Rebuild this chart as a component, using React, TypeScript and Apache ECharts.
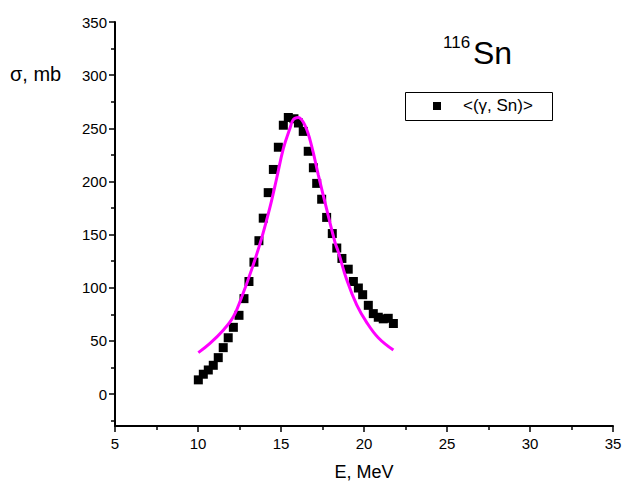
import { useEffect, useRef } from "react";
import * as echarts from "echarts";

const energy = [10.02, 10.32, 10.62, 10.92, 11.22, 11.52, 11.82, 12.13, 12.47, 12.77, 13.07, 13.37, 13.67, 13.93, 14.23, 14.54, 14.84, 15.14, 15.44, 15.78, 16.05, 16.34, 16.64, 16.95, 17.15, 17.45, 17.75, 18.09, 18.36, 18.67, 19.05, 19.36, 19.66, 19.92, 20.26, 20.56, 20.86, 21.16, 21.46, 21.77];
const sigma = [13.4, 18.7, 22.7, 27.1, 34.3, 43.7, 53.0, 62.8, 74.1, 89.8, 105.9, 124.1, 144.3, 165.5, 189.5, 211.3, 232.2, 252.9, 260.2, 259.0, 255.0, 247.1, 228.4, 212.9, 198.2, 183.3, 166.2, 151.0, 137.4, 127.6, 117.5, 105.9, 99.8, 93.5, 83.5, 75.7, 72.3, 70.8, 71.3, 66.4];

const fitEnergy = [10.02, 10.72, 11.52, 12.13, 12.6, 13.23, 13.84, 14.34, 14.74, 15.14, 15.54, 15.74, 16.04, 16.45, 16.85, 17.25, 17.75, 18.25, 18.45, 18.96, 19.56, 20.16, 20.86, 21.77];
const fitSigma = [39.0, 47.7, 60.1, 72.7, 90.0, 117.1, 147.0, 176.0, 203.0, 231.0, 250.0, 258.1, 260.2, 252.5, 233.1, 206.0, 174.0, 143.0, 134.0, 107.5, 84.0, 67.5, 53.0, 41.4];

const yLabels = [0, 50, 100, 150, 200, 250, 300, 350];
const yMinor = [-25, 25, 75, 125, 175, 225, 275, 325];

const seriesName = "<(γ, Sn)>";
const isotopeMass = "116";
const isotopeSymbol = "Sn";
const yTitle = "σ, mb";
const xTitle = "E, MeV";

export default function App() {
  const ref = useRef<HTMLDivElement>(null);
  useEffect(() => {
    const chart = echarts.init(ref.current!, null, { renderer: "svg" });
    const font = "'Liberation Sans', Arial, sans-serif";
    const axisColor = "#000";
    chart.setOption({
      animation: false,
      backgroundColor: "#fff",
      grid: { left: 115, right: 14, top: 22, bottom: 57, containLabel: false },
      xAxis: {
        type: "value",
        min: 5,
        max: 35,
        interval: 5,
        axisLine: { show: true, onZero: false, lineStyle: { color: axisColor, width: 2 } },
        axisTick: { show: true, inside: false, length: 6, lineStyle: { color: axisColor, width: 1.5 } },
        minorTick: { show: true, splitNumber: 2, length: 4, lineStyle: { color: axisColor, width: 1.5 } },
        splitLine: { show: false },
        axisLabel: { color: "#000", fontSize: 15, fontFamily: font, margin: 10 },
        name: xTitle,
        nameLocation: "middle",
        nameGap: 37,
        nameTextStyle: { color: "#000", fontSize: 18, fontFamily: font },
      },
      yAxis: [
        {
          type: "value",
          min: -30,
          max: 350,
          position: "left",
          axisLine: { show: true, onZero: false, lineStyle: { color: axisColor, width: 2 } },
          axisTick: { show: true, inside: false, length: 6, customValues: yLabels, lineStyle: { color: axisColor, width: 1.5 } },
          splitLine: { show: false },
          axisLabel: { color: "#000", fontSize: 15, fontFamily: font, margin: 8, customValues: yLabels },
        },
        {
          type: "value",
          min: -30,
          max: 350,
          position: "left",
          axisLine: { show: false, onZero: false },
          axisTick: { show: true, inside: false, length: 4, customValues: yMinor, lineStyle: { color: axisColor, width: 1.5 } },
          splitLine: { show: false },
          axisLabel: { show: false },
        },
      ],
      graphic: [
        {
          type: "text",
          left: 10,
          top: 64,
          style: { text: yTitle, fill: "#000", font: `20px ${font}` },
        },
        {
          type: "text",
          left: 443,
          top: 34,
          style: { text: isotopeMass, fill: "#000", font: `17px ${font}` },
        },
        {
          type: "text",
          left: 473,
          top: 37,
          style: { text: isotopeSymbol, fill: "#000", font: `32px ${font}` },
        },
        {
          type: "rect",
          shape: { x: 405.5, y: 92.5, width: 147, height: 28 },
          style: { fill: "#fff", stroke: "#000", lineWidth: 1 },
          z: 10,
        },
        {
          type: "rect",
          shape: { x: 433, y: 102, width: 8, height: 8 },
          style: { fill: "#000" },
          z: 11,
        },
        {
          type: "text",
          left: 463,
          top: 97,
          z: 11,
          style: { text: seriesName, fill: "#000", font: `17px ${font}` },
        },
      ],
      series: [
        {
          name: seriesName,
          type: "scatter",
          symbol: "rect",
          symbolSize: 9,
          itemStyle: { color: "#000", opacity: 1 },
          data: energy.map((e, i) => [e, sigma[i]]),
          z: 2,
        },
        {
          name: "fit",
          type: "line",
          smooth: 0.4,
          showSymbol: false,
          lineStyle: { color: "#ff00ff", width: 3 },
          data: fitEnergy.map((e, i) => [e, fitSigma[i]]),
          z: 3,
        },
      ],
    });
    return () => chart.dispose();
  }, []);
  return <div ref={ref} style={{ position: "fixed", left: 0, top: 0, width: 627, height: 486 }} />;
}
